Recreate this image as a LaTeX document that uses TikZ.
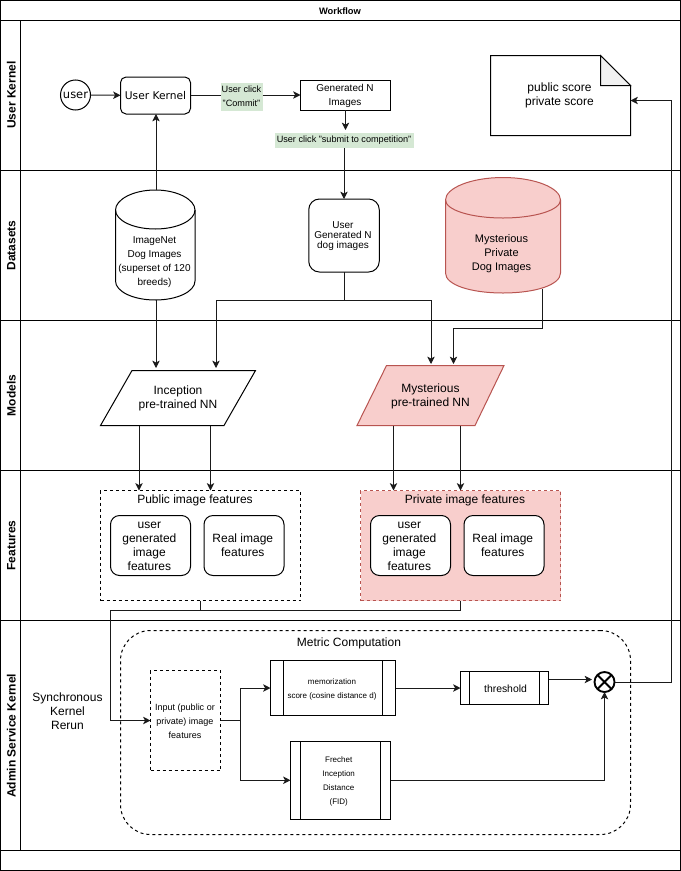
\documentclass[tikz,border=0pt]{standalone}
\usepackage{fontspec}
\setmainfont{Liberation Sans}
\newfontfamily\dejavu{DejaVu Sans}
\usetikzlibrary{arrows.meta}
\tikzset{
  ft/.style 2 args={font=\fontsize{#1}{#2}\selectfont},
  base/.style={inner sep=0pt,outer sep=0pt,align=center,text=black,ft={9}{10.5},line width=0.75pt},
  lane/.style={base,rotate=90,font=\fontsize{9}{10.5}\selectfont\bfseries},
  rbox/.style={base,draw=black,rounded corners=6.75pt},
  sbox/.style={base,draw=black},
  dbox/.style={base,draw=black,dash pattern=on 2.25pt off 2.25pt},
  free/.style={base},
  greenlab/.style={base,fill=labgreen,ft={6.85}{10.5}},
  edge/.style={draw=edgecol,line width=0.75pt,-{Stealth[length=5.5pt,width=5.5pt,inset=1.4pt]}},
  plain/.style={draw=edgecol,line width=0.75pt},
  redfill/.style={fill=redf,draw=redd},
}
\definecolor{labgreen}{HTML}{D5E8D4}
\definecolor{redf}{HTML}{F8CECC}
\definecolor{redd}{HTML}{B85450}
\definecolor{edgecol}{HTML}{1A1A1A}
\definecolor{foldc}{HTML}{F1F1F1}
\begin{document}
\begin{tikzpicture}[x=0.75pt,y=-0.75pt]
\useasboundingbox (0,0) rectangle (681,871);
% swimlanes
\draw[line width=0.75pt] (0.5,0.5) rectangle (680.5,870.5);
\foreach \yy in {20.5,170.5,320.5,470.5,620.5,850.5} \draw[line width=0.75pt] (0.5,\yy) -- (680.5,\yy);
\draw[line width=0.75pt] (20.5,20.5) -- (20.5,850.5);
\node[base,font=\fontsize{7}{8}\selectfont\bfseries] (title) at (340,11) {Workflow};
\node[lane] (l1) at (11.3,95) {User Kernel};
\node[lane] (l2) at (11.3,245.5) {Datasets};
\node[lane] (l3) at (11.3,395.5) {Models};
\node[lane] (l4) at (11.3,545.5) {Features};
\node[lane] (l5) at (11.3,735.8) {Admin Service Kernel};

% user kernel row
\node[base,draw=black,circle,minimum size=30*0.75pt,font=\dejavu\fontsize{8.6}{10}\selectfont] (user) at (75.5,95) {user};
\node[rbox,rounded corners=4.2pt,minimum width=70*0.75pt,minimum height=37*0.75pt,font=\dejavu\fontsize{8}{10}\selectfont] (kernel) at (155.5,95.5) {User Kernel};
\node[sbox,minimum width=90*0.75pt,minimum height=30*0.75pt] (gen) at (345.5,95) {};
\node[free,ft={7.5}{10.5}] (gentxt) at (345,95.7) {Generated N\\Images};
\node[greenlab,minimum width=42*0.75pt,minimum height=28*0.75pt] (commit) at (241.5,96.5) {User click\\"Commit"};
\node[greenlab,minimum width=139*0.75pt,minimum height=15*0.75pt] (submit) at (344,140.5) {User click "submit to competition"};
\coordinate (subin) at (345.5,130);
% note
\draw[line width=0.75pt,fill=white] (490.5,55.5) -- (600.5,55.5) -- (630.5,85.5) -- (630.5,135.5) -- (490.5,135.5) -- cycle;
\draw[line width=0.75pt,fill=foldc] (600.5,55.5) -- (630.5,85.5) -- (600.5,85.5) -- cycle;
\node[free,minimum width=140*0.75pt,minimum height=80*0.75pt] (score) at (560.5,95.5) {};
\node[free] (scoretxt) at (559.5,95.8) {public score\\private score};

% datasets row
\draw[line width=0.75pt,fill=white] (115.5,210) .. controls (115.5,199.5) and (133.25,190) .. (155.25,190) .. controls (177.25,190) and (195,199.5) .. (195,210) -- (195,281) .. controls (195,291.5) and (177.25,300) .. (155.25,300) .. controls (133.25,300) and (115.5,291.5) .. (115.5,281) -- cycle;
\draw[line width=0.75pt] (115.5,210) .. controls (115.5,220.5) and (133.25,229) .. (155.25,229) .. controls (177.25,229) and (195,220.5) .. (195,210);
\node[free,minimum width=79.5*0.75pt,minimum height=110*0.75pt] (imagenet) at (155.25,245) {};
\node[free,ft={7.5}{10.5}] (imagenettxt) at (154.5,261.7) {ImageNet\\Dog Images\\(superset of 120\\breeds)};
\node[rbox,rounded corners=8pt,minimum width=70.5*0.75pt,minimum height=73*0.75pt] (usergen) at (344,235.5) {};
\node[free,ft={7.5}{7.5}] (usergentxt) at (343,236.3) {User\\Generated N\\dog images};
\draw[line width=0.75pt,redfill] (445.5,200) .. controls (445.5,188) and (471,177.5) .. (503,177.5) .. controls (535,177.5) and (560.5,188) .. (560.5,200) -- (560.5,273) .. controls (560.5,285) and (535,293) .. (503,293) .. controls (471,293) and (445.5,285) .. (445.5,273) -- cycle;
\draw[line width=0.75pt,redd] (445.5,200) .. controls (445.5,210) and (471,218) .. (503,218) .. controls (535,218) and (560.5,210) .. (560.5,200);
\node[free,minimum width=115*0.75pt,minimum height=115*0.75pt] (private) at (503,235) {};
\node[free,ft={8.25}{10.5}] (privatetxt) at (501.5,253.5) {Mysterious\\ Private\\Dog Images};

% models row
\draw[line width=0.75pt,fill=white] (132,370.5) -- (255.5,370.5) -- (224,425.5) -- (100.5,425.5) -- cycle;
\node[free,minimum width=155*0.75pt,minimum height=55*0.75pt] (inception) at (178,398) {};
\node[free] (inceptiontxt) at (178,398.7) {Inception\\pre-trained NN};
\draw[line width=0.75pt,redfill] (386.5,365.5) -- (504,365.5) -- (475,425.5) -- (357,425.5) -- cycle;
\node[free,minimum width=147*0.75pt,minimum height=60*0.75pt] (mysterious) at (430.5,395.5) {};
\node[free] (mysterioustxt) at (430.5,396.2) {Mysterious\\pre-trained NN};

% features row
\node[dbox,minimum width=200*0.75pt,minimum height=110*0.75pt] (pub) at (200.5,545.5) {};
\node[free] (pubtxt) at (195,500.5) {Public image features};
\node[rbox,minimum width=80*0.75pt,minimum height=60*0.75pt] (pub1) at (150.5,545.5) {};
\node[free] (pub1txt) at (149.4,546) {user\\generated\\image\\features};
\node[rbox,minimum width=80*0.75pt,minimum height=60*0.75pt] (pub2) at (244,545.5) {};
\node[free] (pub2txt) at (242.8,545.5) {Real image\\features};
\node[dbox,draw=redd,fill=redf,minimum width=200*0.75pt,minimum height=110*0.75pt] (priv) at (460.5,545.5) {};
\node[free] (privtxt) at (465,500.5) {Private image features};
\node[rbox,fill=white,minimum width=80*0.75pt,minimum height=60*0.75pt] (priv1) at (410.5,545.5) {};
\node[free] (priv1txt) at (409.4,546) {user\\generated\\image\\features};
\node[rbox,fill=white,minimum width=80*0.75pt,minimum height=60*0.75pt] (priv2) at (504,545.5) {};
\node[free] (priv2txt) at (502.8,545.5) {Real image\\features};

% admin row
\node[free] (sync) at (67.5,711.5) {Synchronous\\Kernel\\ Rerun};
\node[dbox,rounded corners=22.5pt,minimum width=510*0.75pt,minimum height=204*0.75pt] (metric) at (375.5,732.5) {};
\node[free] (metrictxt) at (349,643) {Metric Computation};
\node[dbox,minimum width=70*0.75pt,minimum height=100*0.75pt] (input) at (185.5,720.5) {};
\node[free,ft={6.75}{10.5}] (inputtxt) at (185,721.2) {Input (public or\\private) image\\features};
\node[sbox,minimum width=125*0.75pt,minimum height=55*0.75pt] (memo) at (333,688) {};
\node[free,ft={6}{10.5}] (memotxt) at (332,689.5) {memorization\\score (cosine distance d)};
\draw[line width=0.75pt] (283.5,660.5) -- (283.5,715.5) (382.5,660.5) -- (382.5,715.5);
\node[sbox,minimum width=100*0.75pt,minimum height=77.5*0.75pt] (fid) at (340.5,780.25) {};
\node[free,ft={6}{10.5}] (fidtxt) at (338.7,781.5) {Frechet\\Inception\\Distance\\(FID)};
\draw[line width=0.75pt] (300.5,741.5) -- (300.5,819) (380.5,741.5) -- (380.5,819);
\node[sbox,minimum width=88*0.75pt,minimum height=33.5*0.75pt] (thresh) at (504.5,688) {};
\node[free,ft={7.8}{10.5}] (threshtxt) at (505.5,688.3) {threshold};
\draw[line width=0.75pt] (469.5,671.25) -- (469.5,704.75) (539.5,671.25) -- (539.5,704.75);
\node[base,draw=black,circle,line width=1.4pt,minimum size=20*0.75pt] (xor) at (604.5,682) {};
\draw[line width=1.4pt] (xor.45) -- (xor.225) (xor.135) -- (xor.315);

% connectors
\draw[edge] (user) -- (kernel);
\draw[plain] (kernel.east) -- (commit.west |- kernel.east);
\draw[edge] (commit.east |- gen.west) -- (gen.west);
\draw[edge] (imagenet.north -| 156,0) -- (kernel.south -| 156,0);
\draw[edge] (gen.south) -- (subin);
\draw[edge] (submit.south) -- (usergen.north);
\coordinate (split) at (344,300.5);
\draw[plain] (usergen.south) -- (split);
\draw[edge] (split) -| (216,368);
\draw[edge] (split) -| (431,364);
\draw[edge] (imagenet.south -| 156,0) -- (156,368);
\draw[edge] (private.south -| 542.5,0) ++(0,-4) |- (453.5,328) -- (453.5,364);
\draw[edge] (inception.south -| 139,0) -- (pub.north -| 139,0);
\draw[edge] (inception.south -| 210.5,0) -- (pub.north -| 210.5,0);
\draw[edge] (mysterious.south -| 393.5,0) -- (priv.north -| 393.5,0);
\draw[edge] (mysterious.south -| 460.5,0) -- (priv.north -| 460.5,0);
\coordinate (join) at (200.5,610.5);
\draw[plain] (pub.south) -- (join);
\draw[plain] (priv.south) |- (join);
\draw[edge] (join) -| (110.5,720.5) -- (input.west);
\coordinate (fork) at (240.5,720.5);
\draw[plain] (input.east) -- (fork);
\draw[edge] (fork) |- (memo.west);
\draw[edge] (fork) |- (fid.west);
\draw[edge] (memo.east) -- (thresh.west);
\draw[edge] (thresh.east |- 0,679.5) -- (592,679.5);
\draw[edge] (fid.east) -| (xor.south);
\draw[edge] (xor.east) -- (671,682) -- (671,100.5) -- (score.east |- 0,100.5);
\end{tikzpicture}
\end{document}
